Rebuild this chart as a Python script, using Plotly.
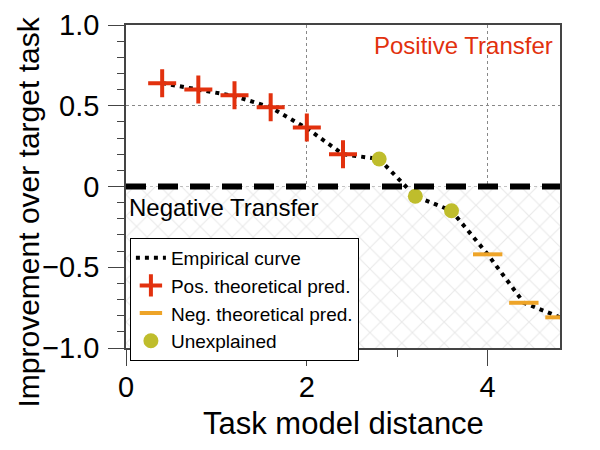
import plotly.graph_objects as go

# data
emp_x = [0.4, 0.8, 1.2, 1.6, 2.0, 2.4, 2.8, 3.2, 3.6, 4.0, 4.4, 4.8]
emp_y = [0.64, 0.60, 0.56, 0.49, 0.36, 0.20, 0.17, -0.06, -0.15, -0.42, -0.72, -0.81]
pos_x = [0.4, 0.8, 1.2, 1.6, 2.0, 2.4]
pos_y = [0.64, 0.60, 0.565, 0.49, 0.365, 0.20]
neg_x = [4.0, 4.4, 4.8]
neg_y = [-0.42, -0.72, -0.81]
unx_x = [2.8, 3.2, 3.6]
unx_y = [0.17, -0.06, -0.15]
x_ticks = [0, 2, 4]
y_ticks = [1.0, 0.5, 0, -0.5, -1.0]
y_tick_text = ["1.0", "0.5", "0", "\u22120.5", "\u22121.0"]
x_title = "Task model distance"
y_title = "Improvement over target task"

RED = "#e2310e"
ORANGE = "#eea428"
OLIVE = "#bfbd2c"
FONT = "Liberation Sans, Arial, sans-serif"

fig = go.Figure()

# hatched negative region
fig.add_trace(go.Scatter(
    x=[0, 4.8, 4.8, 0, 0], y=[0, 0, -1, -1, 0], mode="lines",
    line=dict(width=0), fill="toself", fillcolor="rgba(0,0,0,0)",
    fillpattern=dict(shape="x", size=15, fgcolor="#d4d4d4", bgcolor="white", solidity=0.15),
    showlegend=False, hoverinfo="skip"))

fig.add_trace(go.Scatter(
    x=emp_x, y=emp_y, mode="lines", name="Empirical curve",
    line=dict(color="black", width=4, dash="4px,5px")))
fig.add_trace(go.Scatter(
    x=pos_x, y=pos_y, mode="markers", name="Pos. theoretical pred.",
    marker=dict(symbol="cross-thin", size=20, line=dict(color=RED, width=4), color=RED)))
fig.add_trace(go.Scatter(
    x=neg_x, y=neg_y, mode="markers", name="Neg. theoretical pred.",
    marker=dict(symbol="line-ew", size=21, line=dict(color=ORANGE, width=4), color=ORANGE)))
fig.add_trace(go.Scatter(
    x=unx_x, y=unx_y, mode="markers", name="Unexplained",
    marker=dict(symbol="circle", size=15, color=OLIVE, line=dict(width=0))))

fig.add_shape(type="line", xref="x", yref="y", x0=0, x1=4.8, y0=0, y1=0,
              line=dict(color="black", width=6, dash="20px,12px"), layer="above")

fig.add_annotation(x=1, y=1, xref="paper", yref="paper", xanchor="right", yanchor="top",
                   xshift=-5, yshift=-5, text="Positive Transfer", showarrow=False,
                   font=dict(family=FONT, size=24, color=RED))
fig.add_annotation(x=0, y=0, xref="paper", yref="y", xanchor="left", yanchor="top",
                   xshift=1, yshift=-5, text="Negative Transfer", showarrow=False,
                   font=dict(family=FONT, size=24, color="black"))

# axis titles
fig.add_annotation(x=0.5, y=0, xref="paper", yref="paper", xanchor="center", yanchor="middle",
                   yshift=-75, text=x_title, showarrow=False,
                   font=dict(family=FONT, size=31, color="black"))
fig.add_annotation(x=0, y=0.5, xref="paper", yref="paper", xanchor="center", yanchor="middle",
                   xshift=-98, yshift=-26, textangle=-90, text=y_title, showarrow=False,
                   font=dict(family=FONT, size=30, color="black"))

fig.update_layout(
    width=600, height=450,
    margin=dict(l=118, r=48, t=17, b=110),
    paper_bgcolor="white", plot_bgcolor="white",
    font=dict(family=FONT, color="black"),
    legend=dict(x=0.009, y=0.341, xanchor="left", yanchor="top",
                bordercolor="black", borderwidth=1, bgcolor="white",
                font=dict(family=FONT, size=19), tracegroupgap=0,
                itemwidth=30),
    xaxis=dict(range=[0, 4.8], tickvals=x_ticks, ticks="outside", ticklen=16,
               tickwidth=1, tickcolor="#444", automargin=False, ticklabelstandoff=-4,
               minor=dict(tickvals=[1, 3], ticks="outside", ticklen=7, tickcolor="#444", showgrid=False),
               showline=True, linecolor="#444", linewidth=1.5, mirror=True,
               showgrid=True, gridcolor="#888", griddash="dot", gridwidth=1,
               zeroline=False, tickfont=dict(size=29)),
    yaxis=dict(range=[-1, 1], tickvals=y_ticks, ticktext=y_tick_text, ticks="outside",
               ticklen=16, tickwidth=1, tickcolor="#444", automargin=False, ticklabelstandoff=3,
               minor=dict(dtick=0.1, ticks="outside", ticklen=7, tickcolor="#444", showgrid=False),
               showline=True, linecolor="#444", linewidth=1.5, mirror=True,
               showgrid=True, gridcolor="#888", griddash="dot", gridwidth=1,
               zeroline=False, tickfont=dict(size=29)),
)

fig.write_html("out.html")
